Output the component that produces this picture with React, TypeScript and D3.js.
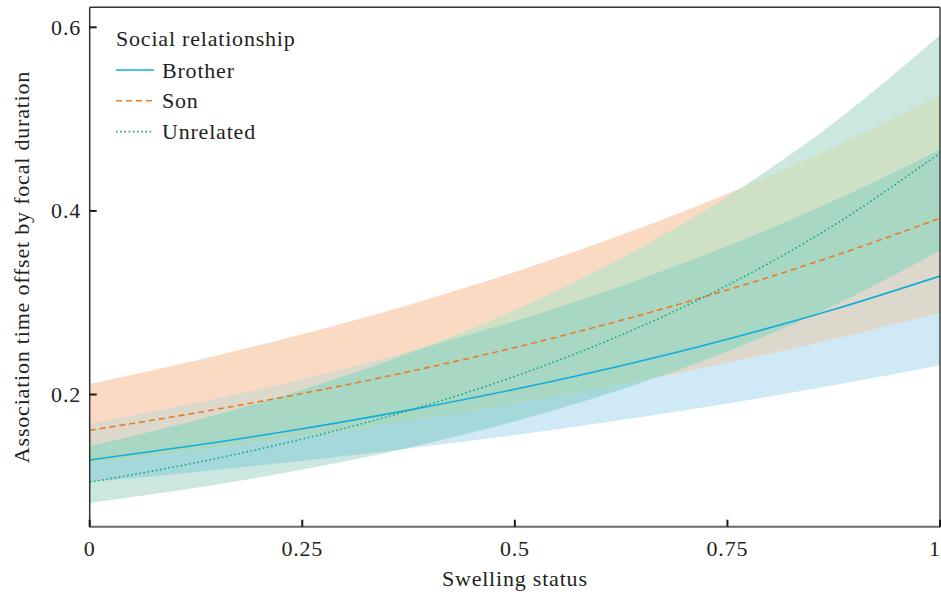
import * as d3 from 'd3';

// swelling status values where the fitted curves were read
const swelling = [0, 0.125, 0.25, 0.375, 0.5, 0.625, 0.75, 0.875, 1];

const brotherFit = [0.1287, 0.1447, 0.1627, 0.183, 0.2058, 0.2314, 0.2602, 0.2926, 0.329];
const brotherLower = [0.1047, 0.1157, 0.1278, 0.1411, 0.1559, 0.1722, 0.1902, 0.2101, 0.232];
const brotherUpper = [0.168, 0.1909, 0.2169, 0.2465, 0.2801, 0.3183, 0.3617, 0.411, 0.467];

const sonFit = [0.161, 0.18, 0.2011, 0.2248, 0.2512, 0.2808, 0.3139, 0.3508, 0.392];
const sonLower = [0.1254, 0.1392, 0.1545, 0.1715, 0.1904, 0.2113, 0.2346, 0.2604, 0.289];
const sonUpper = [0.2115, 0.237, 0.2656, 0.2976, 0.3335, 0.3738, 0.4188, 0.4694, 0.526];

const unrelatedFit = [0.1044, 0.1258, 0.1515, 0.1825, 0.2198, 0.2648, 0.319, 0.3843, 0.463];
const unrelatedLower = [0.0818, 0.0983, 0.1182, 0.1421, 0.1709, 0.2054, 0.247, 0.2969, 0.357];
const unrelatedUpper = [0.144, 0.1718, 0.205, 0.2446, 0.2919, 0.3483, 0.4156, 0.4959, 0.5916];

const xTicks = [0, 0.25, 0.5, 0.75, 1];
const xTickLabels = ['0', '0.25', '0.5', '0.75', '1'];
const yTicks = [0.2, 0.4, 0.6];
const yTickLabels = ['0.2', '0.4', '0.6'];

const legendTitle = 'Social relationship';
const groups = ['Brother', 'Son', 'Unrelated'];

const W = 941;
const H = 592;
const left = 89.7;
const right = 940;
const top = 7.3;
const bottom = 526.7;

const font = '"Liberation Serif", "Times New Roman", serif';
const ink = '#231f20';

const lineColors = { Brother: '#12aed8', Son: '#ee7a22', Unrelated: '#17a886' };
const dashes = { Brother: null, Son: '6,4', Unrelated: '1.6,2.6' };

// band colours, alone and where they overlap
const fillB = '#cfeaf6';
const fillS = '#fbdac4';
const fillU = '#cce6e0';
const fillBS = '#dcd8cc';
const fillBU = '#a5d8da';
const fillSU = '#cfe1c5';
const fillBSU = '#a8d8c4';

const App = () => {
  const x = d3.scaleLinear().domain([0, 1]).range([left, right]);
  const y = d3.scaleLinear().domain([0.056, 0.6218]).range([bottom, top]);

  const band = (lo: number[], hi: number[]) =>
    d3
      .area<number>()
      .x((d) => x(d))
      .y0((d, i) => y(lo[i]))
      .y1((d, i) => y(hi[i]))
      .curve(d3.curveMonotoneX)(swelling) as string;

  const fit = (vals: number[]) =>
    d3
      .line<number>()
      .x((d) => x(d))
      .y((d, i) => y(vals[i]))
      .curve(d3.curveMonotoneX)(swelling) as string;

  const bandB = band(brotherLower, brotherUpper);
  const bandS = band(sonLower, sonUpper);
  const bandU = band(unrelatedLower, unrelatedUpper);

  const fits = {
    Brother: fit(brotherFit),
    Son: fit(sonFit),
    Unrelated: fit(unrelatedFit),
  };

  return (
    <div style={{ position: 'absolute', left: 0, top: 0 }}>
      <svg width={W} height={H} style={{ display: 'block', background: '#fff' }}>
        <defs>
          <clipPath id='clip-son'>
            <path d={bandS} />
          </clipPath>
          <clipPath id='clip-unrel'>
            <path d={bandU} />
          </clipPath>
        </defs>

        {/* confidence bands */}
        <path d={bandB} fill={fillB} />
        <path d={bandS} fill={fillS} />
        <path d={bandU} fill={fillU} />
        <path d={bandB} fill={fillBS} clipPath='url(#clip-son)' />
        <path d={bandB} fill={fillBU} clipPath='url(#clip-unrel)' />
        <path d={bandS} fill={fillSU} clipPath='url(#clip-unrel)' />
        <g clipPath='url(#clip-unrel)'>
          <path d={bandB} fill={fillBSU} clipPath='url(#clip-son)' />
        </g>

        {/* fitted lines */}
        {groups.map((g) => (
          <path
            key={g}
            d={fits[g]}
            fill='none'
            stroke={lineColors[g]}
            strokeWidth={1.6}
            strokeDasharray={dashes[g] || undefined}
          />
        ))}

        {/* frame */}
        <line x1={left} x2={right} y1={top} y2={top} stroke='#333' strokeWidth={1.4} />
        <line x1={right} x2={right} y1={top} y2={bottom} stroke='#333' strokeWidth={1.4} />
        <line x1={left} x2={left} y1={top} y2={bottom} stroke='#333' strokeWidth={1.5} />
        <line x1={left - 0.7} x2={right + 0.7} y1={bottom} y2={bottom} stroke='#6a6a6a' strokeWidth={2} />

        {/* x ticks */}
        {xTicks.map((t, i) => (
          <g key={'x' + i}>
            <line x1={x(t)} x2={x(t)} y1={bottom} y2={bottom - 7} stroke='#1a1a1a' strokeWidth={2} />
            <text
              x={Math.min(x(t), W - 6)}
              y={556}
              textAnchor='middle'
              fontFamily={font}
              fontSize={22}
              letterSpacing={0.8}
              fill={ink}
            >
              {xTickLabels[i]}
            </text>
          </g>
        ))}

        {/* y ticks */}
        {yTicks.map((t, i) => (
          <g key={'y' + i}>
            <line x1={left} x2={left + 7} y1={y(t)} y2={y(t)} stroke='#1a1a1a' strokeWidth={2} />
            <text
              x={81}
              y={y(t) + 7.5}
              textAnchor='end'
              fontFamily={font}
              fontSize={22}
              letterSpacing={0.8}
              fill={ink}
            >
              {yTickLabels[i]}
            </text>
          </g>
        ))}

        {/* axis titles */}
        <text
          x={(left + right) / 2}
          y={586}
          textAnchor='middle'
          fontFamily={font}
          fontSize={22}
          letterSpacing={0.8}
          fill={ink}
        >
          Swelling status
        </text>
        <text
          transform={`translate(29,${(top + bottom) / 2}) rotate(-90)`}
          textAnchor='middle'
          fontFamily={font}
          fontSize={22}
          letterSpacing={0.8}
          fill={ink}
        >
          Association time offset by focal duration
        </text>

        {/* legend */}
        <text x={116} y={46} fontFamily={font} fontSize={22} letterSpacing={0.8} fill={ink}>
          {legendTitle}
        </text>
        {groups.map((g, i) => (
          <g key={'lg' + g}>
            <line
              x1={116}
              x2={154}
              y1={70 + i * 30.8}
              y2={70 + i * 30.8}
              stroke={lineColors[g]}
              strokeWidth={1.6}
              strokeDasharray={dashes[g] || undefined}
            />
            <text
              x={162}
              y={77.5 + i * 30.8}
              fontFamily={font}
              fontSize={22}
              letterSpacing={0.8}
              fill={ink}
            >
              {g}
            </text>
          </g>
        ))}
      </svg>
    </div>
  );
};

export default App;
